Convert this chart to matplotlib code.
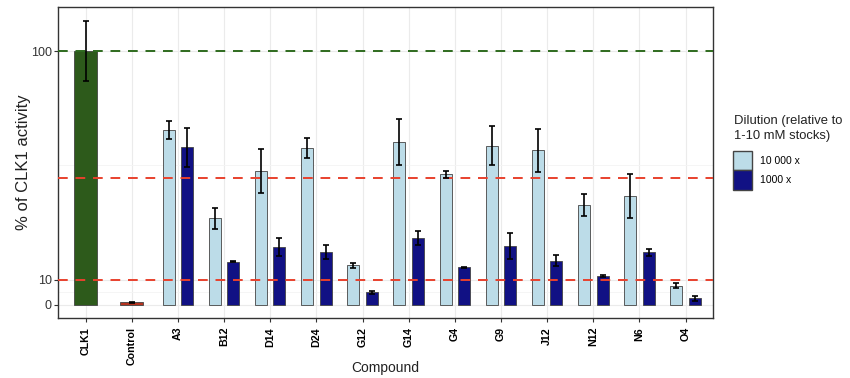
import numpy as np
import matplotlib
matplotlib.use("Agg")
import matplotlib.pyplot as plt
from matplotlib.patches import Patch

plt.rcParams['font.family'] = ['Liberation Sans', 'DejaVu Sans']

# Data
compounds = ['A3', 'B12', 'D14', 'D24', 'G12', 'G14', 'G4', 'G9', 'J12', 'N12', 'N6', 'O4']
dil_10000 = [68.8, 34.1, 52.9, 61.8, 15.7, 64.3, 51.4, 62.7, 61.0, 39.4, 43.0, 7.6]
dil_10000_err = [3.5, 4.0, 8.7, 3.9, 1.0, 9.1, 1.5, 7.7, 8.5, 4.2, 8.7, 0.9]
dil_1000 = [62.1, 17.1, 22.8, 21.0, 5.0, 26.4, 14.8, 23.2, 17.4, 11.5, 20.7, 2.6]
dil_1000_err = [7.6, 0.3, 3.4, 2.8, 0.5, 2.8, 0.3, 5.2, 2.2, 0.3, 1.4, 0.9]
controls = ['CLK1', 'Control']
control_vals = [100, 1.0]
control_err = [11.8, 0.3]
ref_lines = [10, 50]
yticks = [0, 10, 100]

# Colours
clk1_color = '#2d5a1b'
ctrl_color = '#b5331f'
light_color = '#bcdce8'
dark_color = '#111184'
edge_color = '#444444'

fig = plt.figure(figsize=(8.5, 3.78), dpi=100)
ax = fig.add_axes([0.0682, 0.159, 0.771, 0.822])

labels = controls + compounds
x = np.arange(len(labels))
xc = x[:2]
xs = x[2:]

# grid
for xi in x:
    ax.axvline(xi, color='#ebebeb', lw=0.8, zorder=0)
for yv in yticks:
    ax.axhline(yv, color='#ebebeb', lw=0.8, zorder=0)
for yv in [5, 55]:
    ax.axhline(yv, color='#f4f4f4', lw=0.6, zorder=0)

err_kw = dict(ecolor='black', elinewidth=1.2, capsize=2.5, capthick=1.2, zorder=5)

ax.bar(xc, control_vals, width=0.5, color=[clk1_color, ctrl_color],
       edgecolor=edge_color, linewidth=0.6, zorder=2)
ax.errorbar(xc, control_vals, yerr=control_err, fmt='none', **err_kw)

off = 0.2
w = 0.26
ax.bar(xs - off, dil_10000, width=w, color=light_color, edgecolor=edge_color,
       linewidth=0.6, zorder=2)
ax.bar(xs + off, dil_1000, width=w, color=dark_color, edgecolor=edge_color,
       linewidth=0.6, zorder=2)
ax.errorbar(xs - off, dil_10000, yerr=dil_10000_err, fmt='none', **err_kw)
ax.errorbar(xs + off, dil_1000, yerr=dil_1000_err, fmt='none', **err_kw)

# reference lines
for yv in ref_lines:
    ax.axhline(yv, color='#e8412d', lw=1.4, ls=(0, (5, 4)), zorder=4)
ax.axhline(100, color='#2e6b1e', lw=1.4, ls=(0, (5, 4)), zorder=4)

ax.set_xlim(-0.6, len(labels) - 0.4)
ax.set_ylim(-5.1, 117.3)
ax.set_yticks(yticks)
ax.set_yticklabels([str(v) for v in yticks], fontsize=9, color='#333333')
ax.set_xticks(x)
ax.set_xticklabels(labels, rotation=90, fontsize=7.7, fontweight='bold')
ax.tick_params(axis='both', length=3, color='#333333')
ax.tick_params(axis='y', pad=1.5)

for s in ax.spines.values():
    s.set_color('#333333')
    s.set_linewidth(1.0)

ax.set_ylabel('% of CLK1 activity', fontsize=12, color='#222222', labelpad=0)
ax.set_xlabel('Compound', fontsize=10, color='#222222', labelpad=-3)

# legend title and keys
fig.text(734 / 850, 1 - 115 / 378, 'Dilution (relative to\n1-10 mM stocks)',
         fontsize=9.4, color='#222222', va='top', ha='left', linespacing=1.3)
handles = [Patch(facecolor=light_color, edgecolor=edge_color, label='10 000 x'),
           Patch(facecolor=dark_color, edgecolor=edge_color, label='1000 x')]
fig.legend(handles=handles, loc='upper left', bbox_to_anchor=(733 / 850, 1 - 151 / 378),
           frameon=False, fontsize=7.5, handlelength=1.85, handleheight=2.5,
           labelspacing=0.0, handletextpad=0.7, borderaxespad=0, borderpad=0)

fig.savefig('out.png', dpi=100)
